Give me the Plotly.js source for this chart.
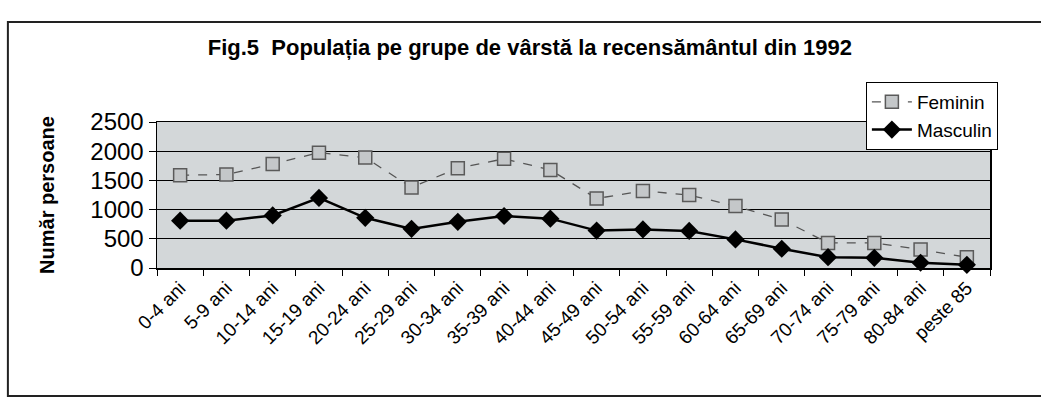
<!DOCTYPE html>
<html>
<head>
<meta charset="utf-8">
<script src="https://cdn.plot.ly/plotly-3.0.1.min.js"></script>
<style>html,body{margin:0;padding:0;background:#fff;}#chart{width:1041px;height:400px;}</style>
</head>
<body>
<div id="chart"></div>
<script>
const categories = ["0-4 ani","5-9 ani","10-14 ani","15-19 ani","20-24 ani","25-29 ani","30-34 ani","35-39 ani","40-44 ani","45-49 ani","50-54 ani","55-59 ani","60-64 ani","65-69 ani","70-74 ani","75-79 ani","80-84 ani","peste 85"];
const feminin = [1590, 1600, 1780, 1975, 1890, 1380, 1710, 1870, 1680, 1190, 1320, 1250, 1060, 830, 430, 430, 315, 185];
const masculin = [810, 810, 900, 1200, 860, 670, 790, 890, 845, 640, 660, 635, 490, 330, 185, 175, 90, 55];
const yTicks = [0, 500, 1000, 1500, 2000, 2500];

const F = 'Liberation Sans, Arial, sans-serif';

const traces = [
  {
    x: categories, y: feminin, name: 'Feminin', type: 'scatter', mode: 'lines+markers',
    line: {color: '#555', width: 1.3, dash: 'dash'},
    marker: {symbol: 'square', size: 13, color: '#c4c7c9', line: {color: '#5a5a5a', width: 1.5}},
    cliponaxis: false
  },
  {
    x: categories, y: masculin, name: 'Masculin', type: 'scatter', mode: 'lines+markers',
    line: {color: '#000', width: 2.5},
    marker: {symbol: 'diamond', size: 14, color: '#000'},
    cliponaxis: false
  }
];

const layout = {
  width: 1041, height: 400,
  margin: {l: 157, r: 51, t: 122, b: 132},
  paper_bgcolor: '#fff',
  plot_bgcolor: '#d3d7d9',
  title: {
    text: '<b>Fig.5  Populația pe grupe de vârstă la recensământul din 1992</b>',
    font: {family: F, size: 22, color: '#000'},
    x: 0.509, xref: 'container', xanchor: 'center',
    y: 0.882, yref: 'container', yanchor: 'middle'
  },
  showlegend: true,
  legend: {
    x: 0.851, y: 1.274, xanchor: 'left', yanchor: 'top',
    bgcolor: '#fff', bordercolor: '#000', borderwidth: 1,
    font: {family: F, size: 19, color: '#000'},
    tracegroupgap: 0, itemwidth: 40
  },
  xaxis: {
    type: 'category',
    range: [-0.5, 17.5],
    tickangle: -45,
    tickfont: {family: F, size: 19, color: '#000'},
    ticks: 'outside', ticklen: 6, tickcolor: '#000', tickson: 'boundaries',
    showline: true, linecolor: '#000', linewidth: 1.5, mirror: true,
    showgrid: false, zeroline: false
  },
  yaxis: {
    range: [0, 2500],
    tickvals: yTicks,
    ticktext: yTicks.map(String),
    tickfont: {family: F, size: 24, color: '#000'},
    ticks: 'outside', ticklen: 7, tickcolor: '#000',
    showline: true, linecolor: '#000', linewidth: 1.5, mirror: true,
    showgrid: true, gridcolor: '#000', gridwidth: 1,
    zeroline: false,
    title: {text: '<b>Număr persoane</b>', font: {family: F, size: 20, color: '#000'}, standoff: 30}
  },
  shapes: [
    {type: 'rect', xref: 'paper', yref: 'paper', x0: -0.179, x1: 1.07, y0: -0.877, y1: 1.685,
     line: {color: '#222', width: 2}, fillcolor: 'rgba(0,0,0,0)', layer: 'below'}
  ]
};

Plotly.newPlot('chart', traces, layout, {displayModeBar: false, staticPlot: true});
</script>
</body>
</html>
